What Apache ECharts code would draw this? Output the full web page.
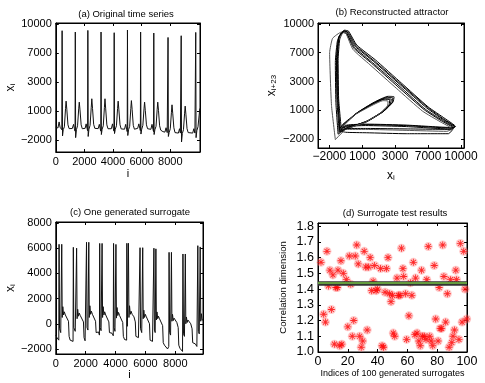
<!DOCTYPE html>
<html><head><meta charset="utf-8">
<script src="https://cdn.jsdelivr.net/npm/echarts@6/dist/echarts.min.js"></script>
<style>html,body{margin:0;padding:0;background:#fff}#c{width:485px;height:383px}</style>
</head><body><div id="c"></div>
<script>
// (a) Original time series: [i, x_i]
const seriesA = [
[0,-650],[150,-720],[232,-100],[300,-650],[420,-900],[442,9305],[470,-1550],[520,-900],[600,-600],[680,1300],[720,2045],[770,1200],[850,-400],[930,-790],[1050,-820],
[1150,-780],[1240,-350],[1300,-800],[1345,-1050],[1362,9170],[1385,-1720],[1440,-900],[1520,-500],[1600,1250],[1640,1940],[1690,1150],[1770,-400],[1850,-800],[1960,-830],
[2050,-760],[2120,-300],[2180,-760],[2222,-1000],[2239,9336],[2262,-1600],[2315,-850],[2395,-450],[2475,1400],[2515,2290],[2565,1300],[2645,-350],[2725,-760],[2850,-800],
[2960,-790],[3040,-350],[3100,-800],[3142,-1050],[3159,9170],[3182,-1400],[3235,-850],[3315,-500],[3395,1400],[3435,2290],[3485,1250],[3565,-400],[3645,-800],[3770,-830],
[3880,-800],[3960,-300],[4020,-800],[4061,-1050],[4078,9098],[4101,-1300],[4155,-850],[4235,-500],[4315,1300],[4355,2045],[4405,1150],[4485,-400],[4565,-820],[4690,-850],
[4800,-850],[4880,-350],[4945,-850],[4987,-1100],[5004,9378],[5027,-1500],[5080,-900],[5160,-550],[5240,1300],[5280,2100],[5330,1200],[5410,-450],[5490,-850],[5610,-880],
[5720,-760],[5800,-300],[5865,-760],[5906,-1000],[5923,9170],[5946,-1350],[6000,-850],[6080,-450],[6160,1250],[6200,1940],[6250,1100],[6330,-400],[6410,-800],[6530,-850],
[6640,-860],[6720,-350],[6785,-860],[6826,-1100],[6843,9067],[6866,-1400],[6920,-900],[7000,-550],[7080,1200],[7120,1940],[7170,1100],[7250,-500],[7330,-950],[7480,-1100],
[7620,-1150],[7700,-700],[7780,-1200],[7821,-1350],[7838,8610],[7861,-1600],[7915,-1200],[7995,-800],[8075,900],[8115,1665],[8165,800],[8245,-700],[8325,-1200],[8450,-1250],
[8560,-1250],[8640,-800],[8700,-1250],[8740,-1450],[8757,8787],[8780,-2170],[8835,-1300],[8915,-900],[8995,800],[9035,1530],[9085,700],[9165,-800],[9245,-1200],[9380,-1250],
[9560,-1250],[9640,-800],[9715,-1250],[9756,-1450],[9773,9129],[9796,-1720],[9850,-1000],[9930,-600],[10010,600],[10060,1285]
];
// (b) Reconstructed attractor loops: [x_i, x_{i+23}]
const attractorLoops = [
[[-1000,-1200],[-1250,2100],[-1300,6300],[-1150,8550],[-700,9300],[-390,9170],[364,7660],[2030,6100],[4450,3670],[6880,1230],[8390,10],[9450,-750],[9000,-850],[5060,-610],[1430,-500],[-390,-610],[-1060,-1030],[-700,-500],[520,710],[2030,1760],[3240,2340],[3790,2280],[3700,1760],[2940,880],[1430,-160],[-390,-850],[-1000,-1200]],
[[-1100,-1300],[-1300,2000],[-1350,6500],[-1100,8700],[-600,9350],[-250,9250],[500,7800],[2200,6250],[4600,3800],[7000,1350],[8550,120],[9500,-700],[9100,-800],[5000,-550],[1400,-450],[-400,-550],[-1100,-1000],[-750,-450],[450,650],[1950,1650],[3100,2200],[3650,2150],[3550,1650],[2850,800],[1400,-200],[-400,-800],[-1100,-1300]],
[[-900,-1100],[-1150,2200],[-1200,6200],[-1050,8400],[-750,9100],[-450,9000],[250,7450],[1850,5900],[4250,3450],[6650,1050],[8200,-100],[9300,-850],[8900,-950],[4900,-700],[1300,-600],[-450,-700],[-1000,-1100],[-650,-550],[550,750],[2100,1850],[3350,2450],[3900,2400],[3800,1850],[3000,950],[1450,-100],[-350,-900],[-900,-1100]],
[[-1200,-1500],[-1400,1800],[-1450,6000],[-1250,8300],[-800,9200],[-450,9100],[300,7550],[1950,5950],[4350,3550],[6750,1100],[8300,-50],[9350,-800],[8850,-1450],[5000,-1450],[1400,-1350],[-500,-1300],[-1100,-1100],[-750,-600],[400,600],[1900,1600],[3000,2150],[3500,2100],[3450,1600],[2700,750],[1300,-250],[-450,-950],[-1200,-1500]],
[[-1450,-2070],[-1800,1500],[-1970,7000],[-1700,8500],[-900,9150],[-500,9050],[150,7350],[1700,5750],[4100,3300],[6500,900],[8100,-200],[9200,-950],[8700,-1200],[5000,-1100],[1300,-1000],[-500,-1000],[-1200,-1300],[-800,-700],[300,500],[1800,1450],[2900,2000],[3350,1950],[3300,1450],[2600,650],[1200,-300],[-500,-1000],[-1450,-2070]],
[[-1050,-1250],[-1200,2500],[-1250,6600],[-1100,8650],[-650,9250],[-300,9150],[450,7700],[2100,6150],[4500,3750],[6950,1300],[8450,50],[9400,-700],[9050,-1000],[5100,-950],[1450,-900],[-350,-900],[-1050,-1250]]
];
// (c) One generated surrogate: [i, x_i]
const seriesC = [
[0,-900],[80,-1100],[150,-1050],[200,-1300],[219,6310],[250,-400],[330,-700],[398,6310],[430,500],[470,1357],[520,700],[570,950],[640,700],[760,550],[850,200],[890,-1000],[960,-1300],[1060,-1150],[1155,-1400],
[1174,6070],[1205,-300],[1300,-600],[1393,6000],[1425,400],[1465,1150],[1515,600],[1565,850],[1640,650],[1760,500],[1850,150],[1890,-1100],[1960,-1350],[2040,-1250],
[2056,6470],[2090,-300],[2150,-500],[2208,6470],[2240,500],[2280,1430],[2330,750],[2380,1000],[2450,750],[2570,600],[2660,200],[2700,-700],[2780,-850],[2860,-650],[2920,-900],
[2938,6380],[2970,-300],[3030,-550],[3097,6380],[3130,500],[3170,1357],[3220,700],[3270,950],[3340,700],[3460,550],[3550,150],[3590,-700],[3670,-850],[3760,-750],[3845,-950],
[3866,6380],[3900,-300],[3960,-600],[4025,6300],[4058,450],[4098,1290],[4148,650],[4198,900],[4270,650],[4390,500],[4480,100],[4520,-1000],[4600,-1250],[4680,-1150],[4740,-1300],
[4755,6390],[4790,-200],[4830,-300],[4861,6390],[4895,500],[4935,1430],[4985,750],[5035,1000],[5110,750],[5230,550],[5320,150],[5360,-1000],[5440,-1150],[5530,-1100],[5615,-1250],
[5637,6040],[5670,-400],[5750,-700],[5816,6040],[5850,400],[5890,1080],[5940,500],[5990,750],[6060,550],[6180,400],[6270,0],[6310,-1300],[6390,-1450],[6470,-1400],[6545,-1550],
[6565,6000],[6600,-500],[6650,-700],[6698,5950],[6730,300],[6770,940],[6820,400],[6870,600],[6940,400],[7060,250],[7150,-150],[7190,-1500],[7270,-1700],[7380,-1600],[7480,-2000],[7560,-1800],
[7580,5670],[7615,-700],[7680,-900],[7739,5670],[7770,200],[7810,750],[7860,250],[7910,450],[7980,300],[8100,100],[8190,-300],[8230,-1700],[8310,-1950],[8400,-2100],[8480,-2200],
[8508,5540],[8545,-800],[8610,-1000],[8667,5540],[8700,0],[8740,540],[8790,100],[8840,300],[8910,150],[9030,0],[9120,-400],[9160,-1500],[9240,-1650],[9340,-1600],[9440,-1800],
[9503,6200],[9540,-600],[9600,-800],[9662,6100],[9700,200],[9740,800],[9790,300],[9850,300]
];
// (d) Surrogate test results
const surrIdx = [2,3.8,5,6,7,8,9,10,11,12,13,13.4,14.6,15.4,16,17,19,20,21,22,23,24,25,26,27,28,29,30,31,32,33,34,35,36,37,38,39,40,42,43,44,45,46,47,48,49,50,50.5,51.5,53,54,55,56,57,57.5,58.8,59.5,61,62,63,64,65,65.5,66.5,67.7,68.6,69.5,70,71.3,72.5,73,74,75,76,77,78,79,80.6,81.3,82,83,83.7,84.5,85.7,86.8,88,88.9,89.8,90.6,91.6,92.5,93,94.6,95.5,96.7,97.8,98.7,99.8];
const surrDim = [1.57,1.24,1.19,1.64,1.42,1.52,1.27,1.49,1.05,1.41,1.41,1.52,1.04,1.58,1.05,1.50,1.46,1.16,1.61,1.43,1.10,1.20,1.61,1.68,1.56,1.10,1.03,1.07,1.64,1.54,1.14,1.54,1.60,1.39,1.45,1.55,1.39,1.40,1.53,1.04,1.03,1.38,1.53,1.60,1.37,1.32,1.36,1.12,1.10,1.47,1.36,1.36,1.66,1.53,1.48,1.37,1.08,1.23,1.44,1.36,1.57,1.11,1.47,1.12,1.07,1.04,1.52,1.10,1.10,1.08,1.46,1.67,1.10,1.07,1.04,1.55,1.21,1.07,1.41,1.15,1.15,1.68,1.48,1.19,1.37,1.03,1.46,1.06,1.10,1.14,1.52,1.46,1.08,1.69,1.19,1.64,1.40,1.21];
const originalDim = 1.44;

// tick values / labels
const tickA_X = [0,2000,4000,6000,8000];
const tickA_Y = [-2000,1000,4000,7000,10000];
const labA_Y = ['−2000','1000','3000','7000','10000'];
const tickB = [-2000,1000,4000,7000,10000];
const labB = ['−2000','1000','3000','7000','10000'];
const tickC_X = [0,2000,4000,6000,8000];
const tickC_Y = [-2000,0,2000,4000,6000,8000];
const tickD_X = [0,20,40,60,80,100];
const tickD_Y = [1.0,1.1,1.2,1.3,1.4,1.5,1.6,1.7,1.8];

const FONT = 'Liberation Sans';
const fmtInt = v => (v < 0 ? '−' + Math.abs(v) : String(v));
const fmtMap = (vals, labs) => v => { const k = vals.findIndex(t => Math.abs(t - v) < 1e-6); return k >= 0 ? labs[k] : ''; };

function ax(gi, pos, min, max, vals, fmt, fs, margin, showLab, extra) {
  return Object.assign({
    type: 'value', gridIndex: gi, position: pos, min: min, max: max,
    axisLine: {show: true, onZero: false, lineStyle: {color: '#000', width: 1}},
    axisTick: {show: true, inside: true, length: 3, customValues: vals, lineStyle: {color: '#000', width: 1}},
    axisLabel: {show: showLab, customValues: vals, formatter: fmt, fontSize: fs, margin: margin, color: '#000', fontFamily: FONT},
    splitLine: {show: false}
  }, extra || {});
}
function richName(main, sub, fs, sfs) {
  return {
    rich: {
      m: {fontSize: fs, fontFamily: FONT, color: '#000', verticalAlign: 'top', lineHeight: fs},
      s: {fontSize: sfs, fontFamily: FONT, color: '#000', verticalAlign: 'bottom', lineHeight: sfs, padding: [fs - 4, 0, 0, 0]}
    }
  };
}

const grids = [
  {left: 54, top: 23, width: 146, height: 129},
  {left: 318, top: 23, width: 146, height: 125},
  {left: 54, top: 222, width: 149, height: 132},
  {left: 318, top: 223, width: 149, height: 129}
].map(g => Object.assign(g, {show: true, borderColor: '#000', borderWidth: 1, backgroundColor: '#fff'}));

const xAxes = [
  ax(0, 'bottom', 0, 10070, tickA_X, fmtInt, 11, 4, true, {name: 'i', nameLocation: 'middle', nameGap: 16, nameTextStyle: {fontSize: 11, fontFamily: FONT, color: '#000'}}),
  ax(1, 'bottom', -3030, 10270, tickB, fmtMap(tickB, labB), 12, 3, true, {name: '{m|x}{s|i}', nameLocation: 'middle', nameGap: 22, nameTextStyle: richName('x','i',12,8)}),
  ax(2, 'bottom', 0, 9850, tickC_X, fmtInt, 11, 4, true, {name: 'i', nameLocation: 'middle', nameGap: 11, nameTextStyle: {fontSize: 11, fontFamily: FONT, color: '#000'}}),
  ax(3, 'bottom', 0, 100, tickD_X, fmtInt, 12.5, 3, true, {name: 'Indices of 100 generated surrogates', nameLocation: 'middle', nameGap: 14, nameTextStyle: {fontSize: 9, fontFamily: FONT, color: '#000'}}),
  ax(0, 'top', 0, 10070, tickA_X, fmtInt, 11, 4, false),
  ax(1, 'top', -3030, 10270, tickB, fmtInt, 11, 4, false),
  ax(2, 'top', 0, 9850, tickC_X, fmtInt, 11, 4, false),
  ax(3, 'top', 0, 100, tickD_X, fmtInt, 11, 4, false)
];
const yAxes = [
  ax(0, 'left', -3200, 10100, tickA_Y, fmtMap(tickA_Y, labA_Y), 11, 4, true, {name: '{m|x}{s|i}', nameLocation: 'middle', nameGap: 38, nameTextStyle: richName('x','i',12,8)}),
  ax(1, 'left', -2940, 10100, tickB, fmtMap(tickB, labB), 11, 4, true, {name: '{m|x}{s|i+23}', nameLocation: 'middle', nameGap: 40, nameTextStyle: richName('x','i+23',12,8)}),
  ax(2, 'left', -2400, 8080, tickC_Y, fmtInt, 11, 4, true, {name: '{m|x}{s|i}', nameLocation: 'middle', nameGap: 30, nameTextStyle: richName('x','i',12,8)}),
  ax(3, 'left', 1.0, 1.82, tickD_Y, v => v.toFixed(1), 12.5, 4, true, {name: 'Correlation dimension', nameLocation: 'middle', nameGap: 30, nameTextStyle: {fontSize: 9.5, fontFamily: FONT, color: '#000'}}),
  ax(0, 'right', -3200, 10100, tickA_Y, fmtInt, 11, 4, false),
  ax(1, 'right', -2940, 10100, tickB, fmtInt, 11, 4, false),
  ax(2, 'right', -2400, 8080, tickC_Y, fmtInt, 11, 4, false),
  ax(3, 'right', 1.0, 1.82, tickD_Y, fmtInt, 11, 4, false)
];

const titleStyle = {fontSize: 9.5, fontWeight: 'normal', color: '#000', fontFamily: FONT};
const titles = [
  {text: '(a) Original time series', left: 126, top: 9},
  {text: '(b) Reconstructed attractor', left: 392, top: 7},
  {text: '(c) One generated surrogate', left: 130, top: 207},
  {text: '(d) Surrogate test results', left: 395, top: 208}
].map(t => Object.assign(t, {textAlign: 'center', padding: 0, textStyle: titleStyle}));

const asterisk = 'path://M-0.6,-5 L0.6,-5 L0.6,5 L-0.6,5 Z M-5,-0.6 L5,-0.6 L5,0.6 L-5,0.6 Z M-3.96,-3.11 L-3.11,-3.96 L3.96,3.11 L3.11,3.96 Z M3.11,-3.96 L3.96,-3.11 L-3.11,3.96 L-3.96,3.11 Z';
const surrPts = surrIdx.map((x, k) => [x, surrDim[k]]);

const series = [
  {type: 'line', xAxisIndex: 0, yAxisIndex: 0, data: seriesA, showSymbol: false, lineStyle: {color: '#111', width: 1}},
  ...attractorLoops.map((loop, k) => ({type: 'line', xAxisIndex: 1, yAxisIndex: 1, data: loop, showSymbol: false, smooth: 0.15,
     lineStyle: {color: k === 4 ? '#555' : '#000', width: 1}})),
  {type: 'line', xAxisIndex: 2, yAxisIndex: 2, data: seriesC, showSymbol: false, lineStyle: {color: '#111', width: 1}},
  {type: 'scatter', xAxisIndex: 3, yAxisIndex: 3, data: surrPts, symbol: 'circle', symbolSize: 9,
     itemStyle: {color: 'rgba(255,110,110,0.45)'}, z: 2},
  {type: 'scatter', xAxisIndex: 3, yAxisIndex: 3, data: surrPts, symbol: asterisk, symbolSize: 7,
     itemStyle: {color: '#ff0000'}, z: 3},
  {type: 'scatter', xAxisIndex: 3, yAxisIndex: 3, data: [], z: 5,
     markLine: {silent: true, symbol: 'none', label: {show: false}, animation: false,
       data: [{yAxis: originalDim, lineStyle: {color: '#333', width: 4.5, type: 'solid'}},
              {yAxis: originalDim, lineStyle: {color: '#76c043', width: 1.6, type: 'solid'}}]}}
];

const chart = echarts.init(document.getElementById('c'), null, {renderer: 'canvas'});
chart.setOption({
  animation: false,
  backgroundColor: '#fff',
  textStyle: {fontFamily: FONT},
  title: titles,
  grid: grids,
  xAxis: xAxes,
  yAxis: yAxes,
  series: series
});
</script></body></html>
